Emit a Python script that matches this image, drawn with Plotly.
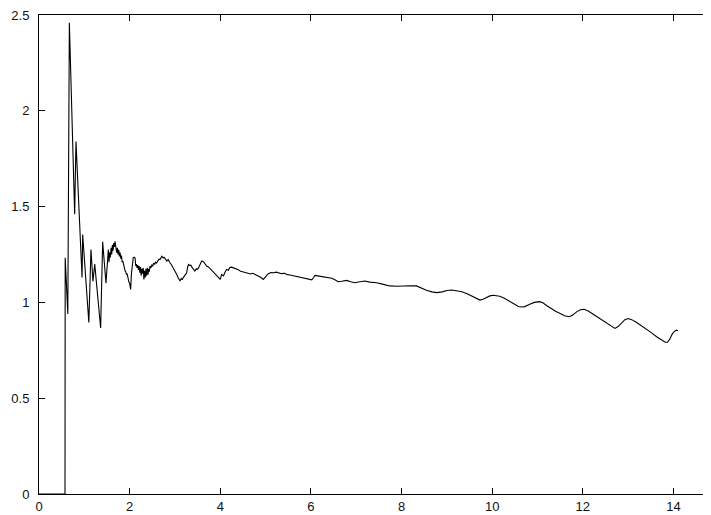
import plotly.graph_objects as go

x_vals = [
    0.0, 0.574, 0.578, 0.636, 0.67, 0.787, 0.816, 0.95, 0.964, 1.10, 1.147, 1.19, 1.23, 1.36, 1.405, 1.478,
    1.53, 1.545, 1.56, 1.575, 1.59, 1.605, 1.62, 1.635, 1.65, 1.665, 1.677, 1.69, 1.70, 1.715, 1.73,
    1.745, 1.76, 1.775, 1.79, 1.805, 1.82, 1.835, 1.85, 1.865, 1.88, 1.90, 1.915, 1.93, 1.945, 1.96,
    1.97, 1.985, 2.00, 2.022, 2.04, 2.06, 2.08,
    2.10, 2.12, 2.135, 2.15, 2.165, 2.18, 2.195, 2.21, 2.225, 2.24, 2.255, 2.27, 2.285, 2.30, 2.315,
    2.33, 2.345, 2.36, 2.375, 2.39, 2.405, 2.42, 2.435, 2.45, 2.47, 2.49, 2.51, 2.53, 2.55, 2.57,
    2.59, 2.61, 2.63, 2.65, 2.67, 2.69, 2.71,
    2.74, 2.76, 2.78, 2.80, 2.82, 2.85, 2.87, 2.89, 2.92, 2.94, 2.96, 2.99, 3.02, 3.04, 3.07, 3.09,
    3.11, 3.14, 3.16, 3.18, 3.21, 3.24, 3.26, 3.28, 3.30, 3.33, 3.35, 3.37, 3.40, 3.42, 3.44, 3.47,
    3.49, 3.52, 3.55, 3.57, 3.59,
    3.63, 3.66, 3.70, 3.74, 3.78, 3.82, 3.85, 3.89, 3.93, 3.97, 4.00, 4.03, 4.07, 4.11, 4.14, 4.18,
    4.21, 4.25, 4.29,
    4.35, 4.40, 4.45, 4.50, 4.56, 4.62, 4.67, 4.72, 4.78, 4.84, 4.90, 4.95, 5.00, 5.06, 5.12, 5.17,
    5.24, 5.30, 5.35, 5.42, 5.48, 5.54, 5.60, 5.66, 5.72,
    5.76, 5.85, 5.93, 6.02, 6.06, 6.09, 6.18, 6.27, 6.36, 6.46, 6.53, 6.60, 6.68, 6.79, 6.88, 6.97,
    7.08, 7.19, 7.30, 7.45, 7.60, 7.74,
    7.90, 8.04, 8.20, 8.33, 8.45, 8.55, 8.67, 8.78, 8.90, 9.00, 9.11, 9.22, 9.33,
    9.45, 9.55, 9.65, 9.73, 9.80, 9.88, 9.95, 10.02, 10.10, 10.17, 10.28, 10.39, 10.50, 10.58, 10.65,
    10.72, 10.83, 10.93, 11.04, 11.12, 11.20, 11.30, 11.40, 11.50, 11.60, 11.70, 11.78, 11.87, 11.95,
    12.03, 12.12, 12.23, 12.34, 12.45, 12.56, 12.65, 12.71, 12.78, 12.86, 12.93, 13.00, 13.08, 13.19,
    13.30, 13.41, 13.52, 13.63, 13.74, 13.82, 13.87, 13.92, 13.97, 14.02, 14.07, 14.10,
]

y_vals = [
    0.0, 0.0, 1.233, 0.94, 2.46, 1.46, 1.84, 1.13, 1.354, 0.895, 1.276, 1.11, 1.20, 0.866, 1.316, 1.10,
    1.276, 1.21, 1.262, 1.235, 1.285, 1.25, 1.30, 1.27, 1.31, 1.29, 1.319, 1.285, 1.30, 1.259, 1.285,
    1.25, 1.275, 1.24, 1.26, 1.228, 1.245, 1.21, 1.215, 1.195, 1.18, 1.164, 1.16, 1.145, 1.15, 1.125,
    1.12, 1.105, 1.10, 1.068, 1.15, 1.215, 1.233,
    1.236, 1.232, 1.19, 1.20, 1.18, 1.195, 1.17, 1.19, 1.155, 1.185, 1.14, 1.175, 1.15, 1.18, 1.12,
    1.165, 1.13, 1.175, 1.14, 1.18, 1.145, 1.175, 1.16, 1.19, 1.18, 1.195, 1.19, 1.205, 1.198, 1.21,
    1.205, 1.215, 1.22, 1.226, 1.224, 1.235, 1.241,
    1.232, 1.236, 1.23, 1.225, 1.216, 1.224, 1.212, 1.207, 1.198, 1.19, 1.181, 1.17, 1.158, 1.146, 1.13, 1.122,
    1.112, 1.125, 1.118, 1.128, 1.14, 1.146, 1.155, 1.185, 1.198, 1.192, 1.195, 1.185, 1.175, 1.168, 1.164, 1.175,
    1.172, 1.18, 1.20, 1.21, 1.216,
    1.212, 1.203, 1.19, 1.185, 1.175, 1.162, 1.155, 1.148, 1.135, 1.128, 1.12, 1.146, 1.138, 1.16, 1.172, 1.168,
    1.182, 1.184, 1.181,
    1.175, 1.17, 1.162, 1.158, 1.155, 1.152, 1.148, 1.152, 1.146, 1.14, 1.13, 1.12, 1.135, 1.15, 1.156, 1.155,
    1.158, 1.152, 1.15, 1.152, 1.145, 1.143, 1.14, 1.137, 1.13,
    1.13, 1.125, 1.122, 1.118, 1.13, 1.141, 1.137, 1.134, 1.131, 1.126, 1.118, 1.108, 1.11, 1.115, 1.108, 1.103,
    1.108, 1.112, 1.106, 1.103, 1.094, 1.086,
    1.084, 1.086, 1.087, 1.086, 1.072, 1.063, 1.055, 1.051, 1.055, 1.062, 1.065, 1.060, 1.056,
    1.045, 1.033, 1.020, 1.012, 1.016, 1.027, 1.034, 1.037, 1.036, 1.032, 1.020, 1.004, 0.988, 0.979, 0.976,
    0.978, 0.990, 1.000, 1.004, 0.998, 0.984, 0.968, 0.954, 0.942, 0.930, 0.925, 0.934, 0.952, 0.962,
    0.964, 0.955, 0.938, 0.921, 0.904, 0.885, 0.869, 0.864, 0.874, 0.895, 0.910, 0.916, 0.910, 0.895,
    0.878, 0.861, 0.841, 0.821, 0.804, 0.792, 0.792, 0.808, 0.833, 0.849, 0.855, 0.852,
]

x_ticks = [0, 2, 4, 6, 8, 10, 12, 14]
x_tick_labels = ["0", "2", "4", "6", "8", "10", "12", "14"]
y_ticks = [0, 0.5, 1, 1.5, 2, 2.5]
y_tick_labels = ["0", "0.5", "1", "1.5", "2", "2.5"]

fig = go.Figure()
fig.add_trace(go.Scatter(
    x=x_vals, y=y_vals, mode="lines",
    line=dict(color="black", width=1.1),
    showlegend=False, hoverinfo="skip",
))

font = dict(family="Liberation Sans, Arial, sans-serif", size=13, color="#111")

# page has an 8px body margin, so the figure is sized/offset to compensate
fig.update_layout(
    width=703, height=507,
    margin=dict(l=31, r=0, t=5, b=21, pad=0),
    paper_bgcolor="white", plot_bgcolor="white",
    font=font,
    showlegend=False,
)
fig.update_xaxes(
    range=[0, 14.83], tickvals=x_ticks, ticktext=x_tick_labels,
    showline=True, linecolor="black", linewidth=1, mirror="ticks",
    ticks="inside", ticklen=6, tickcolor="black", tickwidth=1,
    showgrid=False, zeroline=False, tickfont=font, ticklabeloverflow="allow",
)
fig.update_yaxes(
    range=[0, 2.5], tickvals=y_ticks, ticktext=y_tick_labels,
    showline=True, linecolor="black", linewidth=1, mirror=False,
    ticks="inside", ticklen=6, tickcolor="black", tickwidth=1,
    showgrid=False, zeroline=False, tickfont=font, ticklabelstandoff=6,
    ticklabeloverflow="allow",
)

fig.write_html("out.html")
